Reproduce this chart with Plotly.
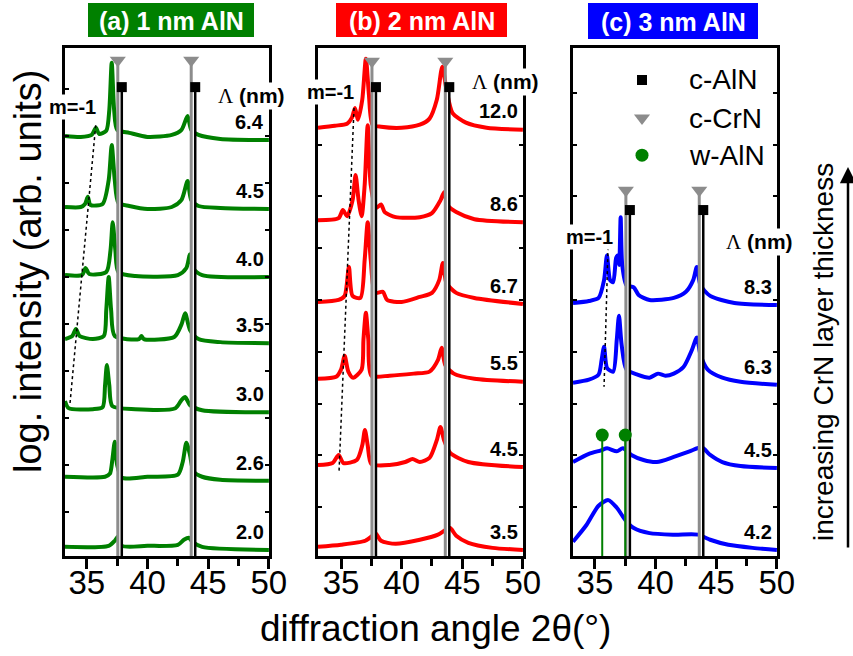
import plotly.graph_objects as go

FONT = "Liberation Sans, Arial, sans-serif"
GREEN = "#008000"
RED = "#ff0000"
BLUE = "#0000ff"
GRAY = "#8c8c8c"

# ---------------- data ----------------
# reference peak positions (2theta, deg)
CRN_PEAKS = [37.55, 43.6]     # c-CrN
ALN_PEAKS = [37.88, 43.93]    # c-AlN
WALN_PEAKS = [35.6, 37.5]     # w-AlN

# panel (a) 1 nm AlN : superlattice period labels and curve offsets (log units)
A_LAMBDA = ["6.4", "4.5", "4.0", "3.5", "3.0", "2.6", "2.0"]
A_OFFSET = [81.9, 68.3, 54.9, 41.9, 28.3, 14.8, 1.2]
# curves: (2theta, log intensity above offset)
A_64 = [(33.2, 0.8), (34.5, 0.6), (35.4, 1.0), (35.75, 2.4), (36.0, 1.2), (36.6, 1.8), (36.85, 5.9),
        (37.05, 15.2), (37.25, 5.9), (37.5, 2.0), (38.5, 1.4), (40.0, 0.6), (42.0, 1.0), (42.8, 2.0),
        (43.3, 4.7), (43.6, 2.0), (44.2, 1.0), (46.0, 0.2), (50.0, 0.0)]
A_45 = [(33.2, 0.4), (34.5, 0.4), (34.85, 1.0), (35.08, 2.4), (35.3, 0.8), (36.3, 1.0), (36.8, 5.7),
        (37.05, 12.6), (37.3, 5.7), (37.6, 1.2), (38.5, 0.6), (40.0, 0.0), (42.0, 0.4), (42.8, 1.8),
        (43.3, 5.5), (43.6, 1.8), (44.2, 0.6), (46.0, 0.2), (50.0, 0.0)]
A_40 = [(33.2, 0.4), (34.6, 0.4), (34.9, 1.8), (35.2, 0.6), (36.6, 1.0), (36.95, 5.3), (37.13, 10.8),
        (37.35, 5.3), (37.6, 1.0), (39.0, 0.2), (42.5, 0.4), (43.2, 1.8), (43.5, 4.5), (43.75, 1.8),
        (44.5, 0.4), (50.0, 0.0)]
A_35 = [(33.2, 0.8), (33.8, 1.4), (34.1, 2.8), (34.4, 1.4), (35.5, 0.8), (36.4, 1.4), (36.6, 6.5),
        (36.8, 13.0), (37.0, 6.5), (37.3, 1.4), (39.3, 0.8), (39.5, 1.4), (39.7, 0.8), (42.2, 1.2),
        (42.8, 3.7), (43.1, 5.9), (43.5, 2.6), (44.2, 0.8), (46.0, 0.2), (50.0, 0.0)]
A_30 = [(33.2, 2.2), (33.5, 0.8), (35.5, 0.6), (36.3, 1.0), (36.5, 5.3), (36.65, 9.3), (36.85, 5.3),
        (37.1, 1.2), (39.0, 0.6), (42.3, 0.8), (42.8, 2.4), (43.1, 3.0), (43.5, 1.4), (44.5, 0.4),
        (50.0, 0.0)]
A_26 = [(33.2, 0.8), (36.5, 0.8), (36.9, 1.4), (37.1, 4.1), (37.3, 7.7), (37.5, 3.1), (37.9, 0.6),
        (40.0, 0.8), (42.5, 1.2), (42.9, 3.7), (43.2, 7.5), (43.5, 5.1), (43.8, 1.8), (44.5, 0.8),
        (46.0, 0.2), (50.0, 0.0)]
A_20 = [(33.2, 0.6), (36.8, 0.8), (37.3, 1.8), (37.55, 2.6), (37.9, 0.8), (40.0, 0.8), (42.5, 1.0),
        (43.0, 2.0), (43.4, 2.4), (43.7, 1.6), (44.5, 0.6), (50.0, 0.0)]
A_CURVES = [A_64, A_45, A_40, A_35, A_30, A_26, A_20]
A_DASH = [(35.73, 84.8), (33.6, 29.7)]

# panel (b) 2 nm AlN
B_LAMBDA = ["12.0", "8.6", "6.7", "5.5", "4.5", "3.5"]
B_OFFSET = [83.9, 65.7, 49.6, 34.3, 17.5, 1.2]
B_120 = [(33.1, 0.4), (34.5, 0.8), (35.5, 1.2), (35.9, 2.4), (36.15, 4.3), (36.4, 2.0), (36.75, 5.9),
         (37.05, 14.0), (37.3, 6.9), (37.6, 1.0), (38.3, 0.6), (40.0, 0.4), (41.5, 1.0), (42.3, 2.2),
         (42.9, 5.9), (43.35, 12.4), (43.7, 7.9), (44.2, 3.3), (45.3, 1.4), (47.0, 0.4), (50.0, 0.0)]
B_86 = [(33.1, 0.4), (34.8, 0.8), (35.15, 2.4), (35.5, 1.2), (35.95, 4.3), (36.2, 9.3), (36.45, 4.3),
        (36.7, 1.2), (36.95, 7.3), (37.2, 19.1), (37.45, 7.3), (37.9, 2.8), (38.3, 3.5), (38.6, 2.0),
        (39.5, 1.0), (41.5, 1.0), (42.5, 1.8), (43.2, 4.3), (43.5, 5.9), (43.8, 3.3), (44.5, 2.0),
        (46.0, 0.6), (50.0, 0.0)]
B_67 = [(33.1, 0.4), (34.8, 0.8), (35.3, 1.6), (35.65, 7.3), (35.95, 1.6), (36.6, 1.2), (36.95, 8.7),
        (37.2, 16.1), (37.45, 8.7), (37.8, 2.2), (38.45, 2.4), (38.8, 0.8), (40.0, 0.4), (41.5, 1.4),
        (42.5, 2.2), (43.1, 4.7), (43.4, 8.1), (43.7, 4.1), (44.5, 2.2), (46.0, 1.2), (50.0, 0.0)]
B_55 = [(33.1, 0.6), (34.6, 1.0), (35.0, 2.4), (35.3, 5.1), (35.6, 2.0), (36.0, 0.8), (36.7, 2.4),
        (36.85, 8.3), (37.05, 13.6), (37.25, 8.3), (37.5, 1.2), (39.0, 1.2), (41.0, 1.6), (42.3, 2.0),
        (43.0, 4.3), (43.3, 6.7), (43.6, 3.3), (44.3, 1.6), (46.0, 0.6), (50.0, 0.0)]
B_45 = [(33.1, 0.4), (34.3, 0.8), (34.8, 2.4), (35.2, 0.8), (36.3, 1.4), (36.75, 4.3), (36.97, 7.3),
        (37.2, 4.3), (37.5, 0.6), (39.0, 0.4), (40.3, 1.0), (40.9, 1.6), (41.5, 1.0), (42.3, 1.8),
        (42.9, 5.3), (43.2, 7.9), (43.5, 5.3), (44.0, 2.8), (45.5, 1.0), (50.0, 0.0)]
B_35 = [(33.1, 0.6), (35.0, 1.0), (37.0, 1.8), (37.6, 2.8), (37.85, 3.3), (38.3, 1.8), (39.5, 1.2),
        (41.5, 2.0), (43.0, 3.0), (43.6, 3.9), (44.0, 4.3), (44.5, 2.8), (45.5, 1.4), (47.5, 0.4),
        (50.0, 0.0)]
B_CURVES = [B_120, B_86, B_67, B_55, B_45, B_35]
B_DASH = [(36.07, 88.2), (34.83, 16.3)]

# panel (c) 3 nm AlN
C_LAMBDA = ["8.3", "6.3", "4.5", "4.2"]
C_OFFSET = [49.4, 33.7, 17.3, 1.2]
C_83 = [(33.19, 0.4), (34.5, 0.8), (35.3, 1.4), (35.75, 4.9), (35.99, 9.8), (36.25, 4.9), (36.5, 4.5),
        (36.75, 9.3), (36.9, 9.8), (37.0, 7.9), (37.12, 17.3), (37.25, 7.9), (37.6, 3.9), (38.2, 3.5),
        (38.6, 2.0), (39.5, 1.0), (41.5, 1.4), (42.5, 2.6), (43.1, 4.9), (43.4, 7.5), (43.7, 3.9),
        (44.5, 1.8), (46.5, 0.4), (50.0, 0.0)]
C_63 = [(33.19, 0.4), (34.5, 1.0), (35.3, 2.0), (35.55, 4.9), (35.75, 7.5), (36.0, 3.3), (36.5, 2.6),
        (36.8, 8.9), (36.98, 13.6), (37.2, 7.9), (37.6, 3.0), (38.5, 2.0), (39.5, 1.4), (40.2, 2.2),
        (40.8, 1.8), (41.5, 2.2), (42.3, 3.5), (43.0, 6.9), (43.4, 9.3), (43.7, 5.9), (44.3, 3.0),
        (45.5, 1.4), (47.0, 0.6), (50.0, 0.0)]
C_45 = [(33.19, 1.2), (34.5, 2.8), (35.5, 3.5), (36.0, 3.9), (36.8, 3.3), (37.3, 3.9), (38.0, 2.6),
        (39.0, 1.6), (40.1, 1.2), (41.5, 2.2), (42.8, 3.3), (43.8, 4.1), (44.5, 2.6), (45.5, 1.2),
        (47.0, 0.4), (50.0, 0.0)]
C_42 = [(33.19, 1.6), (34.3, 4.9), (35.3, 8.7), (36.1, 9.8), (36.8, 8.3), (37.5, 5.9), (38.2, 4.3),
        (39.5, 3.3), (41.5, 3.0), (43.5, 3.0), (44.5, 2.0), (46.0, 1.0), (48.0, 0.4), (50.0, 0.0)]
C_CURVES = [C_83, C_63, C_45, C_42]
C_DASH = [(36.08, 60.8), (35.75, 33.3)]

LEGEND_NAMES = ["c-AlN", "c-CrN", "w-AlN"]

# ---------------- layout helpers ----------------
W, H = 853, 656
Y_DOMAIN = [1 - 556 / H, 1 - 48 / H]


def px(x):
    return x / W


def py(y):
    return 1 - y / H


panels = [
    dict(n="", dom=[px(65), px(269)], rng=[33.2, 50.01], color=GREEN, offs=A_OFFSET, curves=A_CURVES,
         labels=A_LAMBDA, dash=A_DASH, crn_y=97.6, aln_y=92.3, tick0=8.7, dtick=9.25,
         m_pos=(33.78, 88.4), lam_pos=(48.6, 90.6), title="(a) 1 nm AlN",
         box=(88, 254, 3, 37)),
    dict(n="2", dom=[px(318), px(523)], rng=[33.1, 50.01], color=RED, offs=B_OFFSET, curves=B_CURVES,
         labels=B_LAMBDA, dash=B_DASH, crn_y=97.4, aln_y=92.3, tick0=9.6, dtick=10.2,
         m_pos=(34.13, 91.3), lam_pos=(48.6, 93.3), title="(b) 2 nm AlN",
         box=(336, 507, 3, 37)),
    dict(n="3", dom=[px(573), px(777)], rng=[33.19, 50.01], color=BLUE, offs=C_OFFSET, curves=C_CURVES,
         labels=C_LAMBDA, dash=C_DASH, crn_y=72.0, aln_y=68.1, tick0=9.6, dtick=10.2,
         m_pos=(34.59, 62.8), lam_pos=(48.6, 61.8), title="(c) 3 nm AlN",
         box=(588, 758, 3, 39)),
]

fig = go.Figure()
annotations = []
shapes = []
layout_axes = {}

for i, p in enumerate(panels):
    xa, ya = "x" + p["n"], "y" + p["n"]
    common = dict(xaxis=xa, yaxis=ya, showlegend=False, hoverinfo="skip")
    # spectra
    for off, cur in zip(p["offs"], p["curves"]):
        fig.add_trace(go.Scatter(x=[c[0] for c in cur], y=[off + c[1] for c in cur], mode="lines",
                                 line=dict(color=p["color"], width=4, shape="spline", smoothing=0.7),
                                 **common))
    # dashed m=-1 guide
    fig.add_trace(go.Scatter(x=[d[0] for d in p["dash"]], y=[d[1] for d in p["dash"]], mode="lines",
                             line=dict(color="black", width=1.5, dash="3px,3px"), **common))
    # reference lines
    for crn, aln in zip(CRN_PEAKS, ALN_PEAKS):
        fig.add_trace(go.Scatter(x=[(crn + aln) / 2] * 2, y=[0, p["aln_y"]], mode="lines",
                                 line=dict(color="white", width=4), **common))
        fig.add_trace(go.Scatter(x=[crn, crn], y=[0, p["crn_y"]], mode="lines",
                                 line=dict(color=GRAY, width=3), **common))
        fig.add_trace(go.Scatter(x=[aln, aln], y=[0, p["aln_y"]], mode="lines",
                                 line=dict(color="black", width=2.5), **common))
    fig.add_trace(go.Scatter(x=ALN_PEAKS, y=[p["aln_y"]] * len(ALN_PEAKS), mode="markers",
                             marker=dict(symbol="square", size=10, color="black"), **common))
    fig.add_trace(go.Scatter(x=CRN_PEAKS, y=[p["crn_y"]] * len(CRN_PEAKS), mode="markers",
                             marker=dict(symbol="triangle-down", size=14, color=GRAY), **common))
    if i == 2:
        for w in WALN_PEAKS:
            fig.add_trace(go.Scatter(x=[w, w], y=[0, 23.8], mode="lines",
                                     line=dict(color=GREEN, width=2), **common))
        fig.add_trace(go.Scatter(x=WALN_PEAKS, y=[23.8] * len(WALN_PEAKS), mode="markers",
                                 marker=dict(symbol="circle", size=13, color=GREEN), **common))
        # manual legend
        leg_sym = [("square", "black", 10), ("triangle-down", GRAY, 14), ("circle", GREEN, 13)]
        leg_y = [93.7, 86.2, 78.9]
        for (sym, col, sz), yy, name in zip(leg_sym, leg_y, LEGEND_NAMES):
            fig.add_trace(go.Scatter(x=[38.88], y=[yy], mode="markers",
                                     marker=dict(symbol=sym, size=sz, color=col), **common))
            annotations.append(dict(x=42.58, y=yy, xref=xa, yref=ya, text=name, showarrow=False,
                                    xanchor="left", yanchor="middle",
                                    font=dict(family=FONT, size=28, color="black")))

    # value labels
    for off, lab in zip(p["offs"], p["labels"]):
        annotations.append(dict(x=49.75, y=off + 3.6, xref=xa, yref=ya, text="<b>%s</b>" % lab,
                                showarrow=False, xanchor="right", yanchor="middle",
                                font=dict(family=FONT, size=20, color="black")))
    annotations.append(dict(x=p["m_pos"][0], y=p["m_pos"][1], xref=xa, yref=ya, text="<b>m=-1</b>",
                            showarrow=False, xanchor="center", yanchor="middle", bgcolor="white",
                            font=dict(family=FONT, size=20, color="black")))
    annotations.append(dict(x=p["lam_pos"][0], y=p["lam_pos"][1], xref=xa, yref=ya,
                            text="<span style='font-family:Liberation Serif'>Λ</span> <b>(nm)</b>",
                            showarrow=False, xanchor="center", yanchor="middle", bgcolor="white",
                            font=dict(family=FONT, size=21, color="black")))
    # title box
    x0, x1, y0, y1 = p["box"]
    shapes.append(dict(type="rect", xref="paper", yref="paper", x0=px(x0), x1=px(x1), y0=py(y1), y1=py(y0),
                       fillcolor=p["color"], line=dict(width=0)))
    annotations.append(dict(x=px((x0 + x1) / 2), y=py((y0 + y1) / 2 + 1), xref="paper", yref="paper",
                            text="<b>%s</b>" % p["title"], showarrow=False, xanchor="center",
                            yanchor="middle", font=dict(family=FONT, size=25, color="white")))

    # axes
    xkey = "xaxis" + p["n"]
    ykey = "yaxis" + p["n"]
    layout_axes[xkey] = dict(domain=p["dom"], range=p["rng"], anchor=ya, showline=True, linewidth=3,
                             linecolor="black", mirror=True, ticks="outside", ticklen=10, tickwidth=2.5,
                             tickcolor="black", tick0=35, dtick=5, showgrid=False, zeroline=False,
                             ticklabelstandoff=-15, automargin=False,
                             tickfont=dict(family=FONT, size=33, color="black"),
                             minor=dict(dtick=2.5, tick0=35, ticks="outside", ticklen=7, tickwidth=2.5,
                                        tickcolor="black", showgrid=False),
                             fixedrange=True)
    layout_axes[ykey] = dict(domain=Y_DOMAIN, range=[0, 100], anchor=xa, showline=True, linewidth=3,
                             linecolor="black", mirror="ticks", ticks="inside", ticklen=4, tickwidth=2,
                             tickcolor="black", tick0=p["tick0"], dtick=p["dtick"], showticklabels=False,
                             showgrid=False, zeroline=False, fixedrange=True, automargin=False)
    top_key = "xaxis%d" % (i + 4)
    layout_axes[top_key] = dict(overlaying=xa, anchor=ya, side="top", range=p["rng"], showline=False,
                                ticks="inside", ticklen=10, tickwidth=2.5, tickcolor="black", tick0=35,
                                dtick=5, showticklabels=False, showgrid=False, zeroline=False,
                                automargin=False,
                                minor=dict(dtick=2.5, tick0=35, ticks="inside", ticklen=7, tickwidth=2.5,
                                           tickcolor="black", showgrid=False),
                                fixedrange=True)

# axis titles and side arrow
annotations.append(dict(x=px(435), y=py(628), xref="paper", yref="paper",
                        text="diffraction angle 2θ(°)", showarrow=False, xanchor="center",
                        yanchor="middle", font=dict(family=FONT, size=37, color="black")))
annotations.append(dict(x=px(28), y=py(272), xref="paper", yref="paper",
                        text="log. intensity (arb. units)", showarrow=False, textangle=-90,
                        xanchor="center", yanchor="middle", font=dict(family=FONT, size=38, color="black")))
annotations.append(dict(x=px(823), y=py(352), xref="paper", yref="paper",
                        text="increasing CrN layer thickness", showarrow=False, textangle=-90,
                        xanchor="center", yanchor="middle", font=dict(family=FONT, size=28, color="black")))
annotations.append(dict(x=px(848), y=py(167), xref="paper", yref="paper", text="", showarrow=True,
                        ax=0, ay=382, axref="pixel", ayref="pixel", arrowhead=2, arrowsize=1.3,
                        arrowwidth=2.5, arrowcolor="black"))

fig.update_layout(width=W, height=H, margin=dict(l=0, r=0, t=0, b=0, pad=0, autoexpand=False),
                  template="none", plot_bgcolor="white",
                  paper_bgcolor="white", showlegend=False, annotations=annotations, shapes=shapes,
                  **layout_axes)

fig.write_html("out.html",
               post_script="document.body.style.margin='0';"
                           "document.documentElement.style.overflow='hidden';")
